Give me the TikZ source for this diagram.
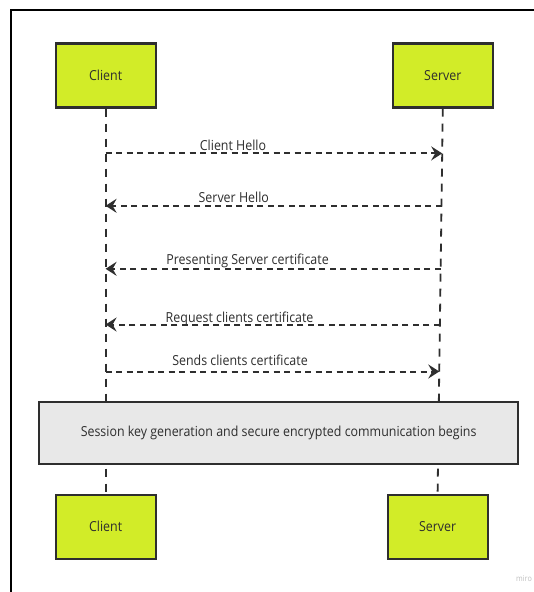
\documentclass[tikz,border=0pt]{standalone}
\usepackage{fontspec}
\setmainfont{Open Sans}[FakeStretch=0.9]
\usetikzlibrary{arrows.meta}
\definecolor{lime}{HTML}{D2EC28}
\definecolor{ink}{HTML}{2E2E2E}
\definecolor{panel}{HTML}{E8E8E8}
\tikzset{
  lbl/.style={font=\fontsize{13.8}{15}\selectfont, text=ink},
  actor/.style={lbl, draw=ink, line width=2.2pt, fill=lime, minimum width=100pt,
    minimum height=64pt, inner sep=0pt},
  lifeline/.style={draw=ink, line width=1.8pt, dash pattern=on 8pt off 7pt},
  msg/.style={draw=ink, line width=2pt, dash pattern=on 6pt off 4.5pt,
    -{Stealth[length=11pt,width=14pt,inset=4pt]}},
  msglabel/.style={lbl, anchor=base, inner sep=0pt},
  banner/.style={lbl, draw=ink, line width=2.2pt, fill=panel, minimum width=479pt,
    minimum height=62pt, inner sep=0pt}
}
\begin{document}
\begin{tikzpicture}[x=1pt, y=-1pt]
  \useasboundingbox (0,0) rectangle (534,592);
  \clip (0,0) rectangle (534,592);
  \fill[white] (0,0) rectangle (534,592);

  % outer frame
  \draw[black, line width=2.4pt] (11,10) rectangle (560,620);

  % participants
  \node[actor] (ct) at (105.6,75.5) {Client};
  \node[actor] (st) at (442.8,75.5) {Server};
  \node[actor] (cb) at (105.6,526.6) {Client};
  \node[actor] (sb) at (437.6,526.6) {Server};

  % lifelines
  \draw[lifeline] (ct.south) -- (cb.north);
  \draw[lifeline] (st.south) -- (sb.north);

  % message end points on the lifelines
  \coordinate (c1) at (105.6,153.4); \coordinate (s1) at (442.2,153.4);
  \coordinate (c2) at (105.6,205.8); \coordinate (s2) at (441.5,205.8);
  \coordinate (c3) at (105.6,268.8); \coordinate (s3) at (440.6,268.8);
  \coordinate (c4) at (105.6,324.5); \coordinate (s4) at (439.9,324.5);
  \coordinate (c5) at (105.6,371.5); \coordinate (s5) at (439.3,371.5);

  % messages
  \draw[msg] (c1) -- (s1);
  \node[msglabel] (l1) at (233,150) {Client Hello};
  \draw[msg] (s2) -- (c2);
  \node[msglabel] (l2) at (233.8,202) {Server Hello};
  \draw[msg] (s3) -- (c3);
  \node[msglabel] (l3) at (247.6,264.8) {Presenting Server certificate};
  \draw[msg] (s4) -- (c4);
  \node[msglabel] (l4) at (239.6,322.5) {Request clients certificate};
  \draw[msg] (c5) -- (s5);
  \node[msglabel] (l5) at (240,365.5) {Sends clients certificate};

  % shared phase
  \node[banner] (phase) at (278.6,433) {Session key generation and secure encrypted communication begins};

  % watermark
  \node[anchor=base west, inner sep=0pt, text=black!25,
    font=\fontsize{8}{9}\selectfont] (wm) at (516,581) {miro};
\end{tikzpicture}
\end{document}
